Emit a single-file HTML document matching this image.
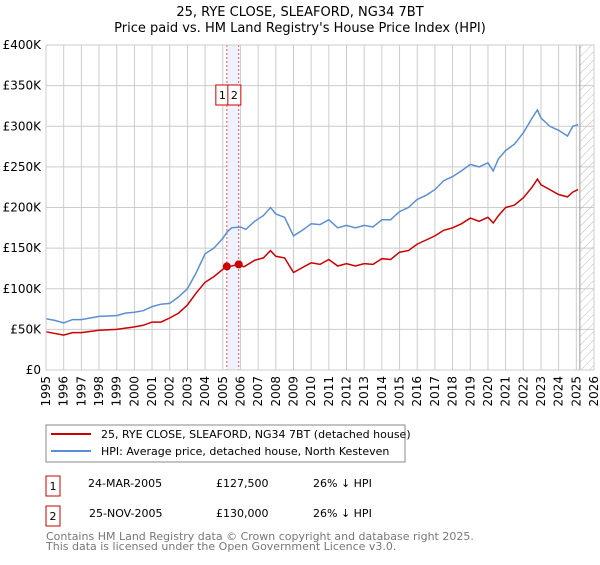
<!DOCTYPE html>
<html><head><meta charset="utf-8"><style>
body{margin:0;background:#fff;font-family:"Liberation Sans","DejaVu Sans",sans-serif}
svg text{font-family:"DejaVu Sans","Liberation Sans",sans-serif}
</style></head><body>
<svg id="c" width="600" height="560" xmlns="http://www.w3.org/2000/svg">
<defs><pattern id="hatch" width="6" height="6" patternUnits="userSpaceOnUse" patternTransform="rotate(45)"><line x1="0" y1="0" x2="0" y2="6" stroke="#bbb" stroke-width="1"/></pattern></defs>
<text x="300" y="16" text-anchor="middle" font-size="13">25, RYE CLOSE, SLEAFORD, NG34 7BT</text>
<text x="300" y="32" text-anchor="middle" font-size="13">Price paid vs. HM Land Registry's House Price Index (HPI)</text>
<g id="grid"></g><g id="plot"></g>
<rect x="46" y="425" width="359" height="37" fill="#fff" stroke="#888"/>
<line x1="51" y1="434" x2="91" y2="434" stroke="#cc0000" stroke-width="2"/>
<text x="101" y="438" font-size="11">25, RYE CLOSE, SLEAFORD, NG34 7BT (detached house)</text>
<line x1="51" y1="451" x2="91" y2="451" stroke="#5b8fd4" stroke-width="2"/>
<text x="101" y="455" font-size="11">HPI: Average price, detached house, North Kesteven</text>
<rect x="46" y="476" width="14" height="20" fill="none" stroke="#cc0000"/>
<text x="53" y="490" font-size="11" text-anchor="middle">1</text>
<text x="88" y="487" font-size="11">24-MAR-2005</text>
<text x="216" y="487" font-size="11">£127,500</text>
<text x="313" y="487" font-size="11">26% ↓ HPI</text>
<rect x="46" y="506" width="14" height="20" fill="none" stroke="#cc0000"/>
<text x="53" y="520" font-size="11" text-anchor="middle">2</text>
<text x="89" y="517" font-size="11">25-NOV-2005</text>
<text x="216" y="517" font-size="11">£130,000</text>
<text x="313" y="517" font-size="11">26% ↓ HPI</text>
<text x="46" y="540" font-size="11" fill="#777">Contains HM Land Registry data © Crown copyright and database right 2025.</text>
<text x="46" y="550" font-size="11" fill="#777">This data is licensed under the Open Government Licence v3.0.</text>
</svg>
<script>
const yTicks=[0,50,100,150,200,250,300,350,400];
const yLabels=["£0","£50K","£100K","£150K","£200K","£250K","£300K","£350K","£400K"];
const years=[1995,1996,1997,1998,1999,2000,2001,2002,2003,2004,2005,2006,2007,2008,2009,2010,2011,2012,2013,2014,2015,2016,2017,2018,2019,2020,2021,2022,2023,2024,2025,2026];
const hpiT=[1995,1995.5,1996,1996.5,1997,1997.5,1998,1999,1999.5,2000,2000.5,2001,2001.5,2002,2002.5,2003,2003.5,2004,2004.5,2005,2005.25,2005.5,2006,2006.3,2006.8,2007.3,2007.7,2008,2008.5,2009,2009.5,2010,2010.5,2011,2011.5,2012,2012.5,2013,2013.5,2014,2014.5,2015,2015.5,2016,2016.5,2017,2017.5,2018,2018.5,2019,2019.5,2020,2020.3,2020.6,2021,2021.5,2022,2022.5,2022.8,2023,2023.5,2024,2024.5,2024.8,2025.1];
const hpiV=[63,61,58,62,62,64,66,67,70,71,73,78,81,82,90,100,120,143,150,162,170,175,176,173,183,190,200,192,188,165,172,180,179,185,175,178,175,178,176,185,185,195,200,210,215,222,233,238,245,253,250,255,245,260,270,278,292,310,320,310,300,295,288,300,302];
const priceT=[1995,1996,1996.5,1997,1998,1999,2000,2000.5,2001,2001.5,2002,2002.5,2003,2003.5,2004,2004.5,2005,2005.23,2005.5,2005.9,2006.2,2006.8,2007.3,2007.7,2008,2008.5,2009,2009.5,2010,2010.5,2011,2011.5,2012,2012.5,2013,2013.5,2014,2014.5,2015,2015.5,2016,2016.5,2017,2017.5,2018,2018.5,2019,2019.5,2020,2020.3,2020.6,2021,2021.5,2022,2022.5,2022.8,2023,2023.5,2024,2024.5,2024.8,2025.1];
const priceV=[47,43,46,46,49,50,53,55,59,59,64,70,80,95,108,115,124,127.5,128,130,127,135,138,147,140,138,120,126,132,130,136,128,131,128,131,130,137,136,145,147,155,160,165,172,175,180,187,183,188,181,190,200,203,212,225,235,228,222,216,213,219,222];
const saleT=[2005.23,2005.9];
const saleV=[127.5,130];
const X0=46,X1=594,Y0=370,Y1=45;
const x=t=>X0+(t-1995)/31*(X1-X0);
const y=v=>Y0-v/400*(Y0-Y1);
const NS="http://www.w3.org/2000/svg";
function mk(tag,attrs,parent){const e=document.createElementNS(NS,tag);for(const k in attrs)e.setAttribute(k,attrs[k]);parent.appendChild(e);return e;}
const g=document.getElementById('grid'),p=document.getElementById('plot');
yTicks.forEach((v,i)=>{
 const l=mk('line',{x1:X0,x2:X1,y1:y(v),y2:y(v),stroke:'#ccc'},g);
 
 
 const t=mk('text',{x:X0-5,y:y(v)+4,'text-anchor':'end','font-size':12},g);
 t.textContent=yLabels[i];
 
 
});
years.forEach(yr=>{
 const l=mk('line',{x1:x(yr),x2:x(yr),y1:Y1,y2:Y0,stroke:'#ccc'},g);
 
 
 const t=mk('text',{transform:`translate(${x(yr)+4},${Y0+6}) rotate(-90)`,'text-anchor':'end','font-size':12},g);
 t.textContent=yr;
 
 
});
const sh=mk('rect',{x:x(saleT[0]),y:Y1,width:x(saleT[1])-x(saleT[0]),height:Y0-Y1,fill:'#eef2fc'},p);


const ht=mk('rect',{x:x(2025.2),y:Y1,width:X1-x(2025.2),height:Y0-Y1,fill:'url(#hatch)'},p);


mk('line',{x1:x(2025.2),x2:x(2025.2),y1:Y1,y2:Y0,stroke:'#999'},p);
saleT.forEach((t,i)=>{
 const l=mk('line',{x1:x(t),x2:x(t),y1:Y1,y2:Y0,stroke:'#e55','stroke-dasharray':'2,2'},p);
 
 
});
const hp=mk('path',{d:hpiT.map((t,i)=>(i?'L':'M')+x(t).toFixed(1)+','+y(hpiV[i]).toFixed(1)).join(''),fill:'none',stroke:'#5b8fd4','stroke-width':1.5},p);


const pp=mk('path',{d:priceT.map((t,i)=>(i?'L':'M')+x(t).toFixed(1)+','+y(priceV[i]).toFixed(1)).join(''),fill:'none',stroke:'#cc0000','stroke-width':1.5},p);


saleT.forEach((t,i)=>{
 const c=mk('circle',{cx:x(t),cy:y(saleV[i]),r:4,fill:'#cc0000'},p);
 
 
});
const bx=[x(saleT[0])-11,x(saleT[0])+1];
bx.forEach((bxx,i)=>{
 const r=mk('rect',{x:bxx,y:85,width:13,height:20,fill:'#fff',stroke:'#cc0000'},p);
 
 
 const t=mk('text',{x:bxx+6.5,y:99,'text-anchor':'middle','font-size':11},p);
 t.textContent=String(i+1);
});
mk('rect',{x:X0,y:Y1,width:X1-X0,height:Y0-Y1,fill:'none',stroke:'#ccc'},p);
</script>
</body></html>
